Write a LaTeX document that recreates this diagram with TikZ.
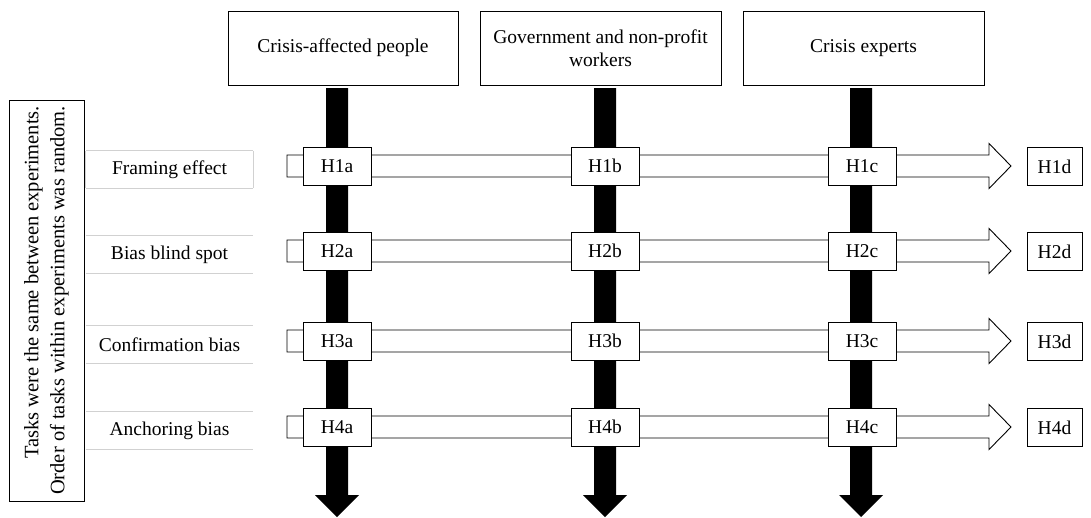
\documentclass[tikz,border=0pt]{standalone}
\usepackage{fontspec}
\setmainfont{Liberation Serif}
\usetikzlibrary{positioning,calc}

\tikzset{
  group/.style={draw, line width=1pt, minimum width=#1, minimum height=74pt, align=center, inner sep=2pt},
  hyp/.style={draw, fill=white, line width=0.9pt, minimum width=#1, minimum height=38pt, inner sep=0pt},
  hyp/.default=68pt,
  task/.style={minimum width=167pt, minimum height=37pt, inner sep=0pt},
  taskline/.style={draw=black!18, line width=0.8pt},
  flowbar/.style={draw, fill=white, line width=0.9pt, line join=miter},
  timebar/.style={fill=black},
}

\begin{document}
\begin{tikzpicture}[x=1pt, y=-1pt, font=\fontsize{19.5}{23.5}\selectfont]
\useasboundingbox (0,0) rectangle (1091,517);

% note on the left
\node[draw, line width=1pt, rotate=90, align=right, minimum width=401pt, minimum height=75pt,
      font=\fontsize{20.5}{26}\selectfont] (note) at (46.5,300.5)
  {Tasks were the same between experiments.\\Order of tasks within experiments was random.};

% groups
\node[group=230pt] (people) at (343,48) {Crisis-affected people};
\node[group=241pt] (gov) at (600.5,48) {Government and non-profit\\workers};
\node[group=241pt] (experts) at (863.5,48) {Crisis experts};

% black arrows down from the groups
\foreach \g/\x in {people/337, gov/605, experts/861} {
  \coordinate (\g-out) at (\x,88);
  \coordinate (\g-end) at (\x,517);
  \fill[timebar] ($(\g-out)+(-11,0)$) -- ($(\g-out)+(11,0)$) -- ($(\g-end)+(11,-22)$)
    -- ($(\g-end)+(22,-22)$) -- (\g-end) -- ($(\g-end)+(-22,-22)$) -- ($(\g-end)+(-11,-22)$) -- cycle;
}

% tasks and hypotheses
\foreach \r/\y/\t in {1/166/Framing effect, 2/251/Bias blind spot, 3/341/Confirmation bias, 4/427/Anchoring bias} {
  \coordinate (s\r) at (287,\y);
  \coordinate (t\r) at (1011,\y);
  \draw[flowbar] ($(s\r)+(0,-11)$) -- ($(t\r)+(-22,-11)$) -- ($(t\r)+(-22,-22.5)$) -- (t\r)
    -- ($(t\r)+(-22,22.5)$) -- ($(t\r)+(-22,11)$) -- ($(s\r)+(0,11)$) -- cycle;
  \node[hyp] (H\r a) at (337,\y) {H\r a};
  \node[hyp] (H\r b) at (605,\y) {H\r b};
  \node[hyp] (H\r c) at (862,\y) {H\r c};
  \node[hyp=55pt] (H\r d) at (1054.5,\y+0.5) {H\r d};
  \node[task] (task\r) at (169.5,\y+3.5) {\t};
  \draw[taskline] (task\r.north west) -- (task\r.north east);
  \draw[taskline] (task\r.south west) -- (task\r.south east);
}
\draw[taskline] (task1.north west) -- (task1.south west);
\draw[taskline] (task1.north east) -- (task1.south east);

\end{tikzpicture}
\end{document}
